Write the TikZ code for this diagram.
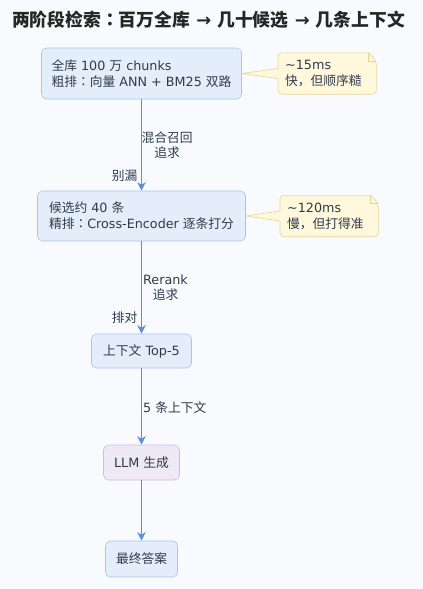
\documentclass[tikz,border=0pt]{standalone}
\usepackage{fontspec}
\setmainfont{DejaVu Sans}
\newfontfamily\cjk{Noto Sans CJK SC}
\newfontfamily\cjkjp{Noto Sans CJK JP}
\usetikzlibrary{arrows.meta,backgrounds}
\definecolor{bgcol}{HTML}{F9FAFD}
\definecolor{ink}{HTML}{2F3B4C}
\definecolor{boxfill}{HTML}{E4EEFB}
\definecolor{boxline}{HTML}{A8C4EA}
\definecolor{genfill}{HTML}{EFE9F6}
\definecolor{genline}{HTML}{C9BEE0}
\definecolor{notefill}{HTML}{FFF8DC}
\definecolor{noteline}{HTML}{E6D496}
\definecolor{flowcol}{HTML}{5B8EDC}
\newcommand{\zh}[1]{{\cjk #1}}
\newcommand{\zhcolon}{{\cjkjp ：}}
\begin{document}
\begin{tikzpicture}[x=1pt,y=-1pt,
    font=\fontsize{12.75}{16}\selectfont, text=ink,
    stage/.style={draw=boxline, fill=boxfill, line width=0.6pt,
      rounded corners=5pt, align=left, inner sep=0pt},
    notebox/.style={align=left, inner ysep=0pt, inner xsep=7pt, text width=84pt,
      minimum height=41pt, anchor=west},
    flow/.style={draw=flowcol, line width=0.9pt,
      -{Stealth[length=8.5pt,width=8.5pt,inset=2.5pt]}},
    lbl/.style={inner sep=0pt}]
  \begin{scope}[on background layer]
    \fill[bgcol] (0,0) rectangle (423,589);
  \end{scope}
  \useasboundingbox (0,0) rectangle (423,589);
  \node[font=\fontsize{17.8}{20}\selectfont\bfseries, text=black!85] (Title) at (208.5,20)
    {\zh{两阶段检索}\zhcolon\zh{百万全库} → \zh{几十候选} → \zh{几条上下文}};
  \node[stage, inner xsep=10pt, minimum height=51pt] (Full) at (141.5,73.5)
    {\zh{全库} 100 \zh{万} chunks\\ \zh{粗排}\zhcolon\zh{向量} ANN + BM25 \zh{双路}};
  \node[stage, inner xsep=11.5pt, minimum height=50pt] (Cand) at (141.5,216)
    {\zh{候选约} 40 \zh{条}\\ \zh{精排}\zhcolon Cross-Encoder \zh{逐条打分}};
  \node[stage, minimum width=100pt, minimum height=34pt] (Top) at (141.5,351)
    {\zh{上下文} Top-5};
  \node[stage, draw=genline, fill=genfill, minimum width=76pt, minimum height=35pt] (Gen) at (141.5,462.5)
    {LLM \zh{生成}};
  \node[stage, minimum width=72pt, minimum height=36pt] (Ans) at (141.5,559)
    {\zh{最终答案}};
  \node[notebox] (Fast) at (278,73.5) {\textasciitilde15ms\\ \zh{快，但顺序糙}};
  \node[notebox] (Slow) at (280,216) {\textasciitilde120ms\\ \zh{慢，但打得准}};
  \begin{scope}[on background layer]
    \foreach \n in {Fast,Slow} {
      \draw[noteline, fill=notefill, line width=0.6pt, rounded corners=4pt]
        ([xshift=-8pt]\n.north east) -- (\n.north west) -- (\n.south west) -- (\n.south east)
        -- ([yshift=-8pt]\n.north east) [sharp corners] -- cycle;
      \draw[noteline, line width=0.6pt] ([xshift=-8pt]\n.north east) -- ([xshift=-8pt,yshift=-8pt]\n.north east)
        -- ([yshift=-8pt]\n.north east);
    }
    \fill[notefill] (Full.east) -- ([xshift=1pt,yshift=5pt]Fast.west) -- ([xshift=1pt,yshift=-5pt]Fast.west) -- cycle;
    \draw[noteline, line width=0.6pt] ([yshift=5pt]Fast.west) -- (Full.east) -- ([yshift=-5pt]Fast.west);
    \fill[notefill] (Cand.east) -- ([xshift=1pt,yshift=5pt]Slow.west) -- ([xshift=1pt,yshift=-5pt]Slow.west) -- cycle;
    \draw[noteline, line width=0.6pt] ([yshift=5pt]Slow.west) -- (Cand.east) -- ([yshift=-5pt]Slow.west);
  \end{scope}
  \draw[flow] (Full) -- (Cand);
  \draw[flow] (Cand) -- (Top);
  \draw[flow] (Top) -- (Gen);
  \draw[flow] (Gen) -- (Ans);
  \node[lbl] (HybA) at (167,137.5) {\zh{混合召回}};
  \node[lbl] (HybB) at (167,152.5) {\zh{追求}};
  \node[lbl] (HybC) at (124.5,176) {\zh{别漏}};
  \node[lbl] (RerA) at (165.5,280) {Rerank};
  \node[lbl] (RerB) at (165.5,295) {\zh{追求}};
  \node[lbl] (RerC) at (124.5,317.5) {\zh{排对}};
  \node[lbl, anchor=west] (Ctx) at (143,407.5) {5 \zh{条上下文}};
\end{tikzpicture}
\end{document}
